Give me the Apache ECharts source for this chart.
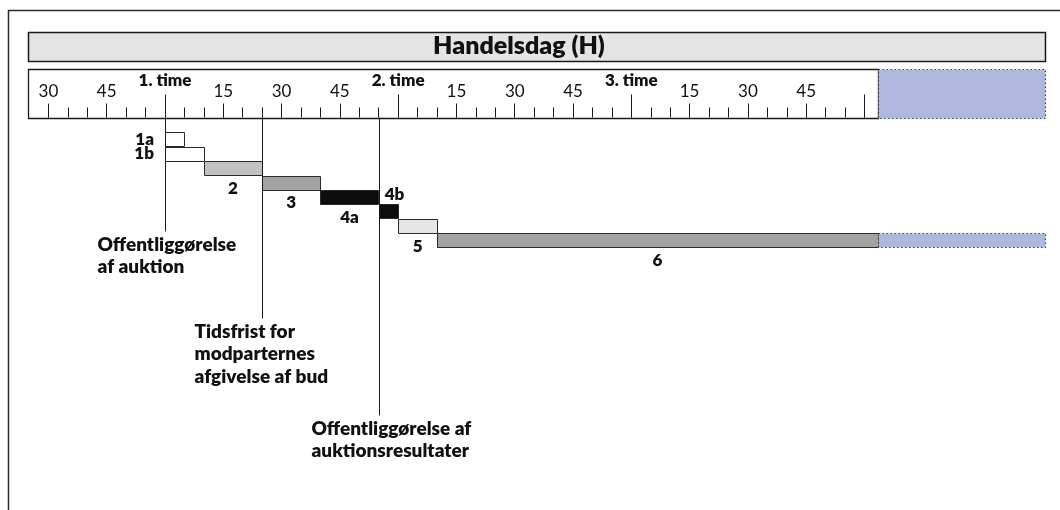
<!DOCTYPE html>
<html>
<head>
<meta charset="utf-8">
<script src="https://cdn.jsdelivr.net/npm/echarts@6/dist/echarts.min.js"></script>
<style>
    html, body {margin: 0; padding: 0; background: #fff;}
    #chartBox {width: 1060px; height: 510px;}
</style>
</head>
<body>
<div id="chartBox"></div>
<script>
// tid i minutter, regnet fra starten af 1. time
var stageNames = ['1a', '1b', '2', '3', '4a', '4b', '5', '6'];
var stageStart = [0, 0, 10, 25, 40, 55, 60, 70];
var stageEnd = [5, 10, 25, 40, 55, 60, 70, 183.5];

var rulerStart = -35.25;
var dayEnd = 183.5;
var afterEnd = 226.45;

var quarterTicks = [-30, -15, 15, 30, 45, 75, 90, 105, 135, 150, 165];
var hourTicks = [0, 60, 120, 180];
var hourLabels = [0, 60, 120];

var eventMinutes = [0, 25, 55];
var eventTexts = [
    'Offentliggørelse\naf auktion',
    'Tidsfrist for\nmodparternes\nafgivelse af bud',
    'Offentliggørelse af\nauktionsresultater'
];

// udseende
var stageColor = {
    '1a': '#ffffff', '1b': '#ffffff', '2': '#c1c1c1', '3': '#a2a2a2',
    '4a': '#0c0c0c', '4b': '#0c0c0c', '5': '#e6e6e6', '6': '#a2a2a2'
};
var labelPlace = {'1a': 'left', '1b': 'left', '4b': 'above'};
var eventDrop = [114, 201, 298];
var rulerBottom = 117.5;
var blue = '#aeb8dc';
var font = 'Lato';
var heavy = 800;

var minorTicks = [];
for (var m = -30; m <= 180; m += 5) {
    minorTicks.push(m);
}

var myChart = echarts.init(document.getElementById('chartBox'));

function px(v) {
    return Math.round(v) + 0.5;
}

function renderRuler(params, api) {
    var p0 = api.coord([api.value(0), 1]);
    var p1 = api.coord([api.value(1), 0]);
    var after = api.value(2) === 1;
    return {
        type: 'rect',
        shape: {x: px(p0[0]), y: px(p0[1]), width: Math.round(p1[0] - p0[0]), height: Math.round(p1[1] - p0[1])},
        style: after ? {fill: blue, stroke: '#444', lineWidth: 1.2, lineDash: [1.5, 2.5]}
            : {fill: '#fff', stroke: '#1a1a1a', lineWidth: 1.3}
    };
}

function renderStage(params, api) {
    var i = params.dataIndex;
    var name = stageNames[i];
    var p0 = api.coord([api.value(0), api.value(2)]);
    var p1 = api.coord([api.value(1), api.value(2) + 1]);
    var kids = [{
        type: 'rect',
        shape: {x: px(p0[0]), y: px(p0[1]), width: Math.round(p1[0] - p0[0]), height: Math.round(p1[1] - p0[1])},
        style: {fill: stageColor[name], stroke: '#2a2a2a', lineWidth: 1}
    }];
    var place = labelPlace[name] || 'below';
    var tx, ty, align = 'center';
    if (place == 'left') {
        tx = p0[0] - 11;
        ty = (p0[1] + p1[1]) / 2;
        align = 'right';
    } else if (place == 'above') {
        tx = (p0[0] + p1[0]) / 2 + 6;
        ty = p0[1] - 10;
    } else {
        tx = (p0[0] + p1[0]) / 2;
        ty = p1[1] + 13;
    }
    kids.push({
        type: 'text',
        style: {text: name, x: tx, y: ty, align: align, verticalAlign: 'middle',
            fontFamily: font, fontWeight: heavy, fontSize: 17, fill: '#111'}
    });
    return {type: 'group', children: kids};
}

function renderAfter(params, api) {
    var p0 = api.coord([api.value(0), api.value(2)]);
    var p1 = api.coord([api.value(1), api.value(2) + 1]);
    return {
        type: 'rect',
        shape: {x: px(p0[0]), y: px(p0[1]), width: Math.round(p1[0] - p0[0]), height: Math.round(p1[1] - p0[1])},
        style: {fill: blue, stroke: '#444', lineWidth: 1.2, lineDash: [1.5, 2.5]}
    };
}

function renderEvent(params, api) {
    var i = params.dataIndex;
    var x = px(api.coord([api.value(0), 0])[0]);
    var y1 = rulerBottom + eventDrop[i];
    return {
        type: 'group',
        children: [{
            type: 'line',
            shape: {x1: x, y1: rulerBottom, x2: x, y2: y1},
            style: {stroke: '#1a1a1a', lineWidth: 1}
        }, {
            type: 'text',
            style: {text: eventTexts[i], x: x - 68, y: y1 + 1.5, align: 'left', verticalAlign: 'top',
                fontFamily: font, fontWeight: heavy, fontSize: 19, lineHeight: 22.8, fill: '#111'}
        }]
    };
}

var stageData = [];
for (var i = 0; i < stageNames.length; i++) {
    stageData.push([stageStart[i], stageEnd[i], i]);
}

function tickAxis(length, label) {
    return {
        type: 'value', gridIndex: 0, position: 'bottom', min: rulerStart, max: afterEnd, z: 10,
        axisLine: {show: false},
        splitLine: {show: false},
        axisTick: {show: true, inside: true, length: length, lineStyle: {color: '#1a1a1a', width: 1}},
        axisLabel: label || {show: false}
    };
}

var minorAxis = tickAxis(10);
minorAxis.axisTick.customValues = minorTicks;
var quarterAxis = tickAxis(14, {
    show: true, inside: true, margin: 17, customValues: quarterTicks,
    fontFamily: font, fontSize: 17, color: '#111',
    formatter: function (v) {
        return String(((v % 60) + 60) % 60);
    }
});
quarterAxis.axisTick.customValues = quarterTicks;
var hourAxis = tickAxis(23, {
    show: true, inside: true, margin: 28, customValues: hourLabels,
    fontFamily: font, fontSize: 17, fontWeight: heavy, color: '#111',
    formatter: function (v) {
        return (v / 60 + 1) + '. time';
    }
});
hourAxis.axisTick.customValues = hourTicks;

option = {
    animation: false,
    grid: [
        {left: 28, top: 69, width: 1017, height: 48.5},
        {left: 28, top: 132.4, width: 1017, height: 115.2}
    ],
    xAxis: [
        minorAxis, quarterAxis, hourAxis,
        {type: 'value', gridIndex: 1, min: rulerStart, max: afterEnd, show: false}
    ],
    yAxis: [
        {type: 'value', gridIndex: 0, min: 0, max: 1, show: false},
        {type: 'value', gridIndex: 1, min: 0, max: 8, inverse: true, show: false}
    ],
    graphic: [
        {type: 'rect', shape: {x: 8.5, y: 10.5, width: 1200, height: 700}, style: {fill: 'none', stroke: '#2a2a2a', lineWidth: 1.5}},
        {type: 'rect', shape: {x: 28.5, y: 32.5, width: 1017, height: 29}, style: {fill: '#e4e4e4', stroke: '#1a1a1a', lineWidth: 1.5}},
        {type: 'text', x: 519, y: 46, style: {text: 'Handelsdag (H)', align: 'center', verticalAlign: 'middle',
            fontFamily: font, fontWeight: heavy, fontSize: 25, fill: '#111'}}
    ],
    series: [
        {
            type: 'custom', name: 'ruler', xAxisIndex: 0, yAxisIndex: 0, z: 1,
            renderItem: renderRuler,
            encode: {x: [0, 1]},
            data: [[rulerStart, dayEnd, 0], [dayEnd, afterEnd, 1]]
        },
        {
            type: 'custom', name: 'faser', xAxisIndex: 3, yAxisIndex: 1,
            renderItem: renderStage,
            encode: {x: [0, 1], y: 2},
            data: stageData
        },
        {
            type: 'custom', name: 'efter', xAxisIndex: 3, yAxisIndex: 1,
            renderItem: renderAfter,
            encode: {x: [0, 1], y: 2},
            data: [[dayEnd, afterEnd, stageNames.length - 1]]
        },
        {
            type: 'custom', name: 'begivenheder', xAxisIndex: 3, yAxisIndex: 1, z: 5,
            renderItem: renderEvent,
            encode: {x: 0},
            data: eventMinutes.map(function (v) { return [v]; })
        }
    ]
};
myChart.setOption(option);
</script>
</body>
</html>
